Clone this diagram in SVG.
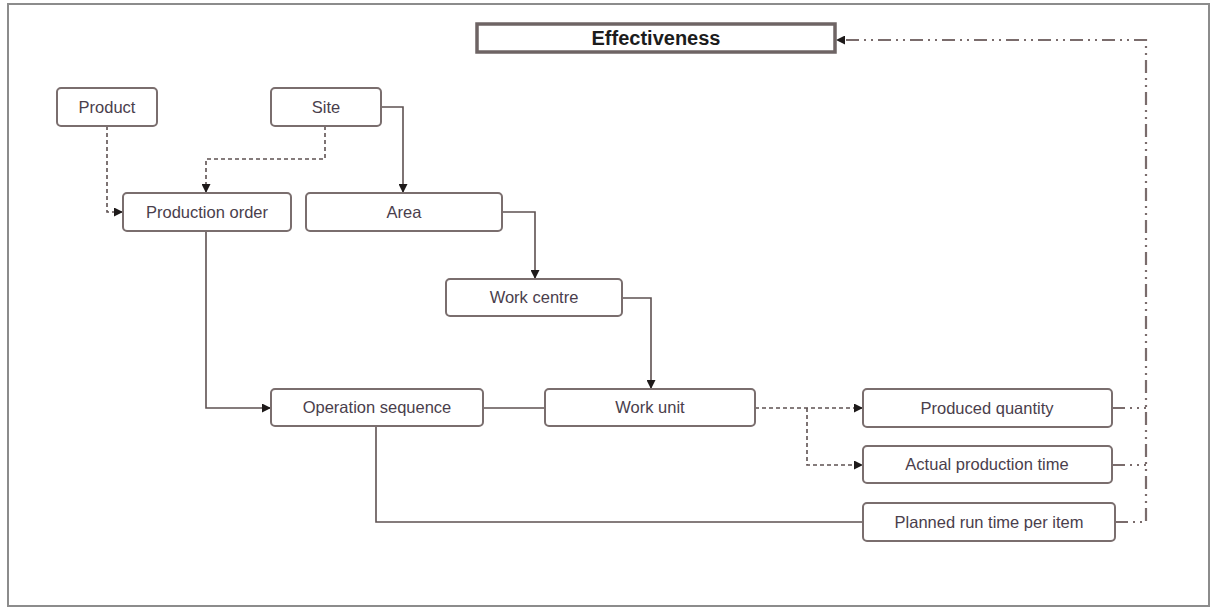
<svg xmlns="http://www.w3.org/2000/svg" width="1213" height="608" viewBox="0 0 1213 608">
  <style>
    .box { fill: #ffffff; stroke: #7a6e6e; stroke-width: 2; }
    .lbl { font-family: "Liberation Sans", Arial, sans-serif; font-size: 16.5px; fill: #4a3e4c; text-anchor: middle; dominant-baseline: central; }
    .title { font-family: "Liberation Sans", Arial, sans-serif; font-size: 20px; font-weight: bold; fill: #1c1c1c; text-anchor: middle; dominant-baseline: central; }
    .solid { fill: none; stroke: #5e5252; stroke-width: 1.6; }
    .dash { fill: none; stroke: #5e5252; stroke-width: 1.6; stroke-dasharray: 4 3; }
    .dashdot { fill: none; stroke: #7a6c6c; stroke-width: 2.2; stroke-dasharray: 13 5 2 5 2 5; }
  </style>
  <defs>
    <marker id="arrow" viewBox="0 0 10 10" refX="10" refY="5" markerWidth="9" markerHeight="9" markerUnits="userSpaceOnUse" orient="auto">
      <path d="M0,0 L10,5 L0,10 z" fill="#1e1a1a"/>
    </marker>
  </defs>

  <rect x="0" y="0" width="1213" height="608" fill="#ffffff"/>
  <!-- outer frame -->
  <rect x="8" y="4" width="1201" height="602" fill="none" stroke="#8c8c8c" stroke-width="2"/>

  <!-- connectors -->
  <g id="connectors">
    <path class="dash" d="M107,126 V212 H123" marker-end="url(#arrow)"/>
    <path class="dash" d="M325,126 V159 H206 V193" marker-end="url(#arrow)"/>
    <path class="solid" d="M381,107 H403 V193" marker-end="url(#arrow)"/>
    <path class="solid" d="M502,212 H535 V279" marker-end="url(#arrow)"/>
    <path class="solid" d="M622,298 H651 V389" marker-end="url(#arrow)"/>
    <path class="solid" d="M206,231 V408 H271" marker-end="url(#arrow)"/>
    <path class="solid" d="M483,408 H545"/>
    <path class="solid" d="M376,426 V522 H863"/>
    <path class="dash" d="M755,408 H863" marker-end="url(#arrow)"/>
    <path class="dash" d="M807,408 V465 H863" marker-end="url(#arrow)"/>
    <path class="dashdot" d="M1112,408 H1146"/>
    <path class="dashdot" d="M1112,465 H1146"/>
    <path class="dashdot" d="M1115,522 H1146 V40 H836" marker-end="url(#arrow)"/>
  </g>

  <g id="effectiveness">
    <rect x="477" y="24" width="358" height="28" fill="#ffffff" stroke="#6e6464" stroke-width="3.5"/>
    <text class="title" x="656" y="38">Effectiveness</text>
  </g>
  <g id="product">
    <rect class="box" x="57" y="88" width="100" height="38" rx="4"/>
    <text class="lbl" x="107" y="107">Product</text>
  </g>
  <g id="site">
    <rect class="box" x="271" y="88" width="110" height="38" rx="4"/>
    <text class="lbl" x="326" y="107">Site</text>
  </g>
  <g id="production-order">
    <rect class="box" x="123" y="193" width="168" height="38" rx="4"/>
    <text class="lbl" x="207" y="212">Production order</text>
  </g>
  <g id="area">
    <rect class="box" x="306" y="193" width="196" height="38" rx="4"/>
    <text class="lbl" x="404" y="212">Area</text>
  </g>
  <g id="work-centre">
    <rect class="box" x="446" y="279" width="176" height="37" rx="4"/>
    <text class="lbl" x="534" y="297">Work centre</text>
  </g>
  <g id="operation-sequence">
    <rect class="box" x="271" y="389" width="212" height="37" rx="4"/>
    <text class="lbl" x="377" y="407">Operation sequence</text>
  </g>
  <g id="work-unit">
    <rect class="box" x="545" y="389" width="210" height="37" rx="4"/>
    <text class="lbl" x="650" y="407">Work unit</text>
  </g>
  <g id="produced-quantity">
    <rect class="box" x="863" y="389" width="249" height="38" rx="4"/>
    <text class="lbl" x="987" y="408">Produced quantity</text>
  </g>
  <g id="actual-production-time">
    <rect class="box" x="863" y="446" width="249" height="37" rx="4"/>
    <text class="lbl" x="987" y="464">Actual production time</text>
  </g>
  <g id="planned-run-time">
    <rect class="box" x="863" y="503" width="252" height="38" rx="4"/>
    <text class="lbl" x="989" y="522">Planned run time per item</text>
  </g>
</svg>
